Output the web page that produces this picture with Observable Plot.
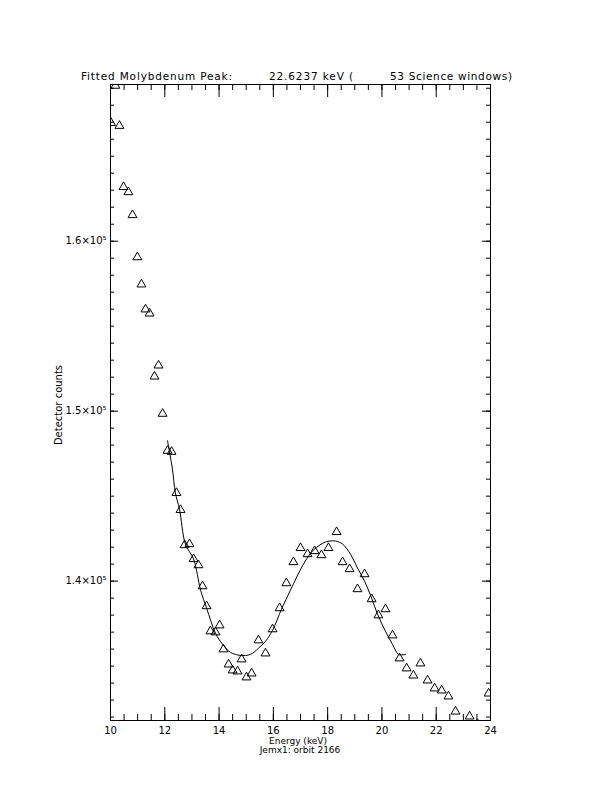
<!DOCTYPE html>
<html><head><meta charset="utf-8">
<script src="https://cdn.jsdelivr.net/npm/d3@7"></script>
<script src="https://cdn.jsdelivr.net/npm/@observablehq/plot@0.6"></script>
<style>body{margin:0;background:#fff;} svg{display:block;}</style>
</head><body><div id="chart"></div>
<script>
// Observed spectrum (triangles)
const energy = [10.02,10.18,10.33,10.48,10.66,10.81,10.99,11.14,11.29,11.44,11.62,11.77,11.92,12.10,12.25,12.43,12.58,12.73,12.91,13.06,13.24,13.39,13.54,13.68,13.87,14.02,14.16,14.35,14.50,14.68,14.83,15.01,15.20,15.45,15.71,15.97,16.23,16.48,16.74,17.00,17.26,17.52,17.77,18.03,18.33,18.55,18.81,19.10,19.36,19.62,19.87,20.13,20.39,20.65,20.91,21.16,21.42,21.68,21.94,22.20,22.45,22.71,23.00,23.23,23.52,23.93];
const counts = [166960,169150,166790,163190,162890,161540,159060,157460,155990,155750,152040,152690,149850,147670,147610,145190,144190,142120,142180,141300,140940,139700,138530,137050,136990,137400,135990,135100,134750,134690,135400,134340,134570,136520,135750,137170,138410,139880,141120,141950,141590,141770,141530,141950,142890,141120,140710,139530,140410,138940,137990,138350,136810,135460,134870,134450,135160,134160,133690,133570,133220,132330,131500,132040,131600,133390];
// Fitted peak curve
const fitEnergy = [12.10,12.28,12.39,12.54,12.76,13.06,13.32,13.54,13.87,14.13,14.42,14.79,15.16,15.45,15.71,15.97,16.30,16.63,17.11,17.48,17.92,18.29,18.55,18.84,19.10,19.36,19.62,19.84,20.13,20.39,20.61,20.87];
const fitCounts = [148260,146610,145190,144250,142180,141300,139470,138410,136930,136280,135810,135630,135690,136050,136460,137110,138350,139470,141000,141830,142300,142360,142180,141590,140770,140000,139000,138050,137050,136280,135690,135690];
// Axes
const xDomain = [10, 24];
const yDomain = [131800, 169220];
const xMajor = [10,12,14,16,18,20,22,24];
const xMinor = d3.range(10, 24.001, 0.5);
const yMajor = [140000,150000,160000];
const yMinor = d3.range(132000, 169001, 1000);
const yLabels = ["1.4×10⁵","1.5×10⁵","1.6×10⁵"];

const W = 612, H = 792, mL = 110, mR = 122, mT = 84, mB = 72;
const pw = W - mL - mR, ph = H - mT - mB;

const obs = energy.map((e,i)=>({e, c: counts[i]}));
const fit = fitEnergy.map((e,i)=>({e, c: fitCounts[i]}));

const chart = Plot.plot({
  width: W, height: H,
  marginLeft: mL, marginRight: mR, marginTop: mT, marginBottom: mB,
  x: {domain: xDomain},
  y: {domain: yDomain},
  style: {fontFamily: "DejaVu Sans", fontSize: "10px", color: "black", background: "white"},
  marks: [
    Plot.frame({stroke: "black"}),
    // bottom ticks
    Plot.tickX(xMinor, {x: d=>d, insetTop: ph - 6, stroke: "black"}),
    Plot.tickX(xMajor, {x: d=>d, insetTop: ph - 13, stroke: "black"}),
    // top ticks
    Plot.tickX(xMinor, {x: d=>d, insetBottom: ph - 6, stroke: "black"}),
    Plot.tickX(xMajor, {x: d=>d, insetBottom: ph - 13, stroke: "black"}),
    // left ticks
    Plot.tickY(yMinor, {y: d=>d, insetRight: pw - 4, stroke: "black"}),
    Plot.tickY(yMajor, {y: d=>d, insetRight: pw - 8, stroke: "black"}),
    // right ticks
    Plot.tickY(yMinor, {y: d=>d, insetLeft: pw - 4, stroke: "black"}),
    Plot.tickY(yMajor, {y: d=>d, insetLeft: pw - 8, stroke: "black"}),
    Plot.axisX({ticks: xMajor, tickSize: 0, tickPadding: 6, tickFormat: d=>String(d), label: null}),
    Plot.axisY({ticks: yMajor, tickSize: 0, tickPadding: 4, tickFormat: d=>yLabels[yMajor.indexOf(d)], label: null}),
    Plot.line(fit, {x: "e", y: "c", stroke: "black", strokeWidth: 1, curve: "catmull-rom", clip: true}),
    Plot.dot(obs, {x: "e", y: "c", symbol: "triangle", r: 3.3, stroke: "black", fill: "none", strokeWidth: 1, clip: true})
  ]
});
document.getElementById("chart").appendChild(chart);

const svg = d3.select(chart);
const txt = (x, y, s, anchor="start", extra={}) => {
  const t = svg.append("text").attr("x", x).attr("y", y).attr("text-anchor", anchor)
    .attr("font-family", "DejaVu Sans").attr("font-size", 10.5).attr("fill", "black").text(s);
  for (const k in extra) t.attr(k, extra[k]);
  return t;
};
txt(81, 80, "Fitted Molybdenum Peak:", "start", {textLength: 151});
txt(269, 80, "22.6237 keV (", "start", {textLength: 84});
txt(390, 80, "53 Science windows)", "start", {textLength: 122});
txt(298, 744, "Energy (keV)", "middle", {"font-size": 9});
txt(300, 753, "Jemx1: orbit 2166", "middle", {"font-size": 9});
txt(0, 0, "Detector counts", "middle", {"font-size": 10, transform: "translate(62,405) rotate(-90)"});
</script>
</body></html>
